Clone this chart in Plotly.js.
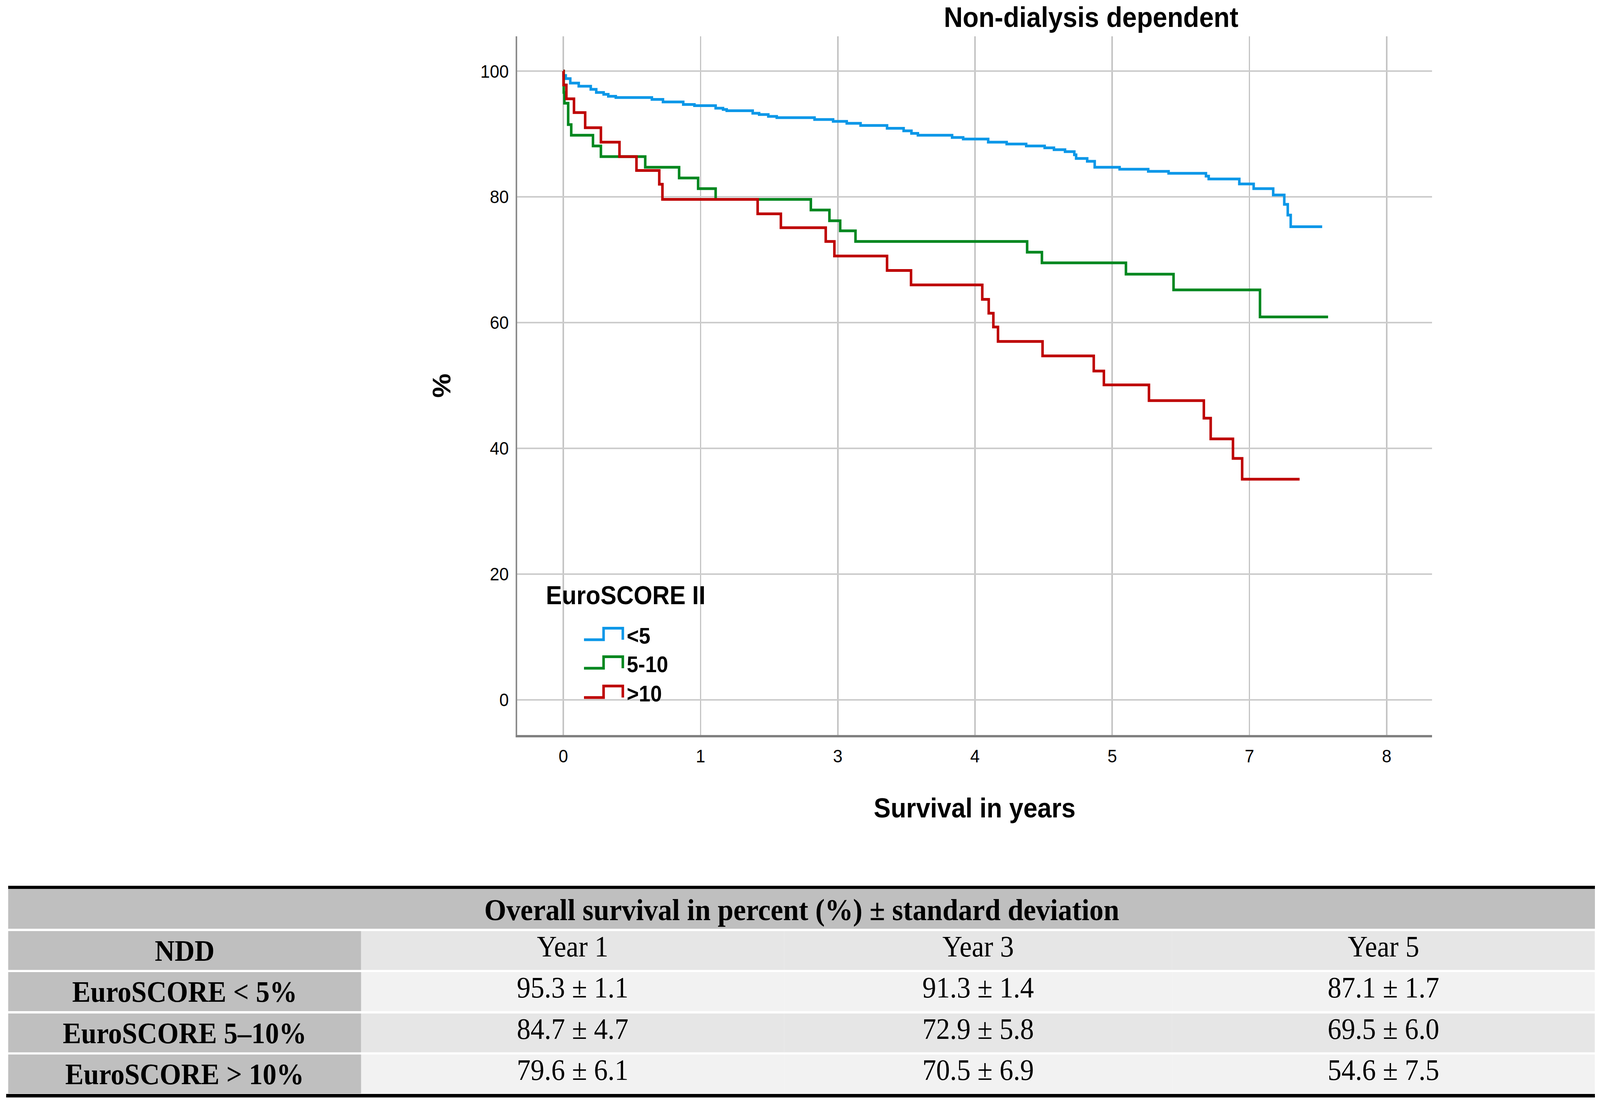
<!DOCTYPE html>
<html>
<head>
<meta charset="utf-8">
<script src="https://cdn.plot.ly/plotly-3.0.1.min.js"></script>
<style>
html,body{margin:0;padding:0;background:#fff;overflow:hidden;}
#chart{width:4411px;height:2837px;transform-origin:0 0;}
</style>
</head>
<body>
<div id="chart"></div>
<script>
// ---------- DATA ----------
const chartTitle = 'Non-dialysis dependent';
const xTitle = 'Survival in years';
const yTitle = '%';
const legendTitle = 'EuroSCORE II';
const seriesNames = ['<5', '5-10', '>10'];

const xTickVals = [0, 1.3, 2.6, 3.9, 5.2, 6.5, 7.8];
const xTickText = ['0', '1', '3', '4', '5', '7', '8'];
const yTickVals = [0, 20, 40, 60, 80, 100];

const blueX = [0, 0.002, 0.023, 0.066, 0.146, 0.260, 0.312, 0.382, 0.426, 0.497, 0.839, 0.944, 1.136, 1.242, 1.443, 1.513, 1.548, 1.794, 1.855, 1.942, 2.022, 2.380, 2.556, 2.685, 2.816, 3.067, 3.224, 3.298, 3.359, 3.683, 3.788, 4.025, 4.200, 4.385, 4.560, 4.648, 4.753, 4.841, 4.858, 4.963, 5.034, 5.270, 5.541, 5.734, 6.088, 6.114, 6.404, 6.540, 6.725, 6.830, 6.863, 6.891, 7.189];
const blueY = [100, 99.3, 98.8, 98.1, 97.6, 97.1, 96.6, 96.3, 96.0, 95.8, 95.5, 95.1, 94.7, 94.5, 94.1, 93.9, 93.7, 93.3, 93.1, 92.8, 92.6, 92.3, 92.0, 91.7, 91.35, 90.9, 90.5, 90.1, 89.8, 89.45, 89.2, 88.7, 88.4, 88.1, 87.8, 87.5, 87.2, 86.7, 86.1, 85.65, 84.7, 84.4, 84.05, 83.75, 83.3, 82.85, 82.05, 81.3, 80.3, 78.8, 77.1, 75.25, 75.25];

const greenX = [0, 0.004, 0.010, 0.046, 0.075, 0.281, 0.356, 0.776, 1.097, 1.277, 1.443, 2.345, 2.521, 2.623, 2.768, 4.394, 4.534, 5.330, 5.781, 6.600, 7.245];
const greenY = [100, 96.6, 94.9, 91.5, 89.8, 88.1, 86.4, 84.7, 83.0, 81.3, 79.6, 77.9, 76.2, 74.6, 72.9, 71.2, 69.5, 67.7, 65.2, 60.9, 60.9];

const redX = [0, 0.002, 0.029, 0.101, 0.207, 0.356, 0.532, 0.693, 0.909, 0.939, 1.841, 2.061, 2.486, 2.568, 3.067, 3.294, 3.969, 4.030, 4.074, 4.118, 4.540, 5.025, 5.121, 5.548, 6.068, 6.133, 6.344, 6.431, 6.975];
const redY = [100, 97.8, 95.6, 93.4, 91.0, 88.7, 86.4, 84.2, 82.0, 79.6, 77.3, 75.1, 72.9, 70.6, 68.3, 66.0, 63.7, 61.5, 59.3, 57.0, 54.7, 52.3, 50.1, 47.6, 44.8, 41.5, 38.4, 35.1, 35.1];

const tableTitle = 'Overall survival in percent (%) ± standard deviation';
const tableHeader = ['NDD', 'Year 1', 'Year 3', 'Year 5'];
const rowLabels = ['EuroSCORE < 5%', 'EuroSCORE 5–10%', 'EuroSCORE > 10%'];
const year1Mean = [95.3, 84.7, 79.6];
const year1SD = [1.1, 4.7, 6.1];
const year3Mean = [91.3, 72.9, 70.5];
const year3SD = [1.4, 5.8, 6.9];
const year5Mean = [87.1, 69.5, 54.6];
const year5SD = [1.7, 6.0, 7.5];

// ---------- STYLE / LAYOUT ----------
const W = 4411, H = 2837;
const fx = px => px / W;
const fy = py => 1 - py / H;
const esc = s => s.replace(/&/g, '&amp;').replace(/</g, '&lt;').replace(/>/g, '&gt;');
const SANS = 'Liberation Sans, Arial, sans-serif';
const SERIF = 'Liberation Serif, Times New Roman, serif';
const colors = ['#0a97e8', '#00871f', '#be0000'];

const xs = [blueX, greenX, redX];
const ys = [blueY, greenY, redY];

const traces = xs.map((x, i) => ({
  type: 'scatter', mode: 'lines', x: x, y: ys[i], name: seriesNames[i],
  line: {shape: 'hv', color: colors[i], width: 7},
  showlegend: false, hoverinfo: 'x+y+name'
}));

// table rows (each row is its own one-row table so rows are separated by white gaps)
const fmt = (m, s) => m.map((v, i) => v.toFixed(1) + ' ± ' + s[i].toFixed(1));
const y1 = fmt(year1Mean, year1SD), y3 = fmt(year3Mean, year3SD), y5 = fmt(year5Mean, year5SD);
const tableRows = [tableHeader.map((h, i) => (i === 0 ? '<b>' + esc(h) + '</b>' : esc(h)))];
rowLabels.forEach((r, i) => tableRows.push(['<b>' + esc(r) + '</b>', y1[i], y3[i], y5[i]]));
const rowTop = 2383.5, rowH = 100.5, rowPitch = 105.5;
tableRows.forEach((vals, r) => {
  const rest = (r % 2 === 0) ? '#e6e6e6' : '#f2f2f2';
  const top = rowTop + r * rowPitch;
  traces.push({
    type: 'table',
    domain: {x: [fx(22.6), fx(4397)], y: [fy(top + rowH + 0.5), fy(top)]},
    columnwidth: [973, 1166, 1070, 1165],
    header: {
      values: vals,
      fill: {color: ['#bfbfbf', rest, rest, rest]},
      line: {width: 0, color: rest},
      height: rowH,
      align: 'center',
      font: {family: SERIF, size: 76, color: '#000'}
    },
    cells: {values: [[], [], [], []], height: 1, line: {width: 0}}
  });
});

// legend (drawn manually with step-shaped icons)
const shapes = [];
const annotations = [];
annotations.push({
  xref: 'paper', yref: 'paper', x: fx(1503), y: fy(1524), xanchor: 'left', yanchor: 'middle',
  text: esc(legendTitle), showarrow: false,
  font: {family: SANS, size: 66, color: '#000', weight: 'bold'}
});
const entryY = [1628, 1701, 1776];
seriesNames.forEach((n, i) => {
  const cy = entryY[i];
  const low = cy + 10, top = cy - 19.5;
  shapes.push({
    type: 'path', xref: 'paper', yref: 'paper',
    path: 'M' + fx(1610) + ',' + fy(low) + ' L' + fx(1664) + ',' + fy(low) + ' L' + fx(1664) + ',' + fy(top) +
          ' L' + fx(1717) + ',' + fy(top) + ' L' + fx(1717) + ',' + fy(low),
    line: {color: colors[i], width: 7}
  });
  annotations.push({
    xref: 'paper', yref: 'paper', x: fx(1726), y: fy(cy), xanchor: 'left', yanchor: 'middle',
    text: esc(n), showarrow: false,
    font: {family: SANS, size: 57, color: '#000', weight: 'bold'}
  });
});

// table decorations
shapes.push({type: 'rect', xref: 'paper', yref: 'paper', x0: fx(22.6), x1: fx(4397), y0: fy(2378), y1: fy(2276),
  fillcolor: '#bfbfbf', line: {width: 0}, layer: 'below'});
shapes.push({type: 'line', xref: 'paper', yref: 'paper', x0: fx(22.6), x1: fx(4397), y0: fy(2272), y1: fy(2272),
  line: {color: '#000', width: 8}});
shapes.push({type: 'line', xref: 'paper', yref: 'paper', x0: fx(17), x1: fx(4397), y0: fy(2805.5), y1: fy(2805.5),
  line: {color: '#000', width: 9}});
annotations.push({
  xref: 'paper', yref: 'paper', x: fx(2210), y: fy(2329), xanchor: 'center', yanchor: 'middle',
  text: '<b>' + esc(tableTitle) + '</b>', showarrow: false,
  font: {family: SERIF, size: 78, color: '#000'}
});

const layout = {
  width: W, height: H,
  margin: {l: 0, r: 0, t: 0, b: 0},
  paper_bgcolor: '#fff', plot_bgcolor: '#fff',
  showlegend: false,
  title: {
    text: chartTitle, x: fx(3008), xref: 'container', xanchor: 'center',
    y: fy(44), yref: 'container', yanchor: 'middle',
    font: {family: SANS, size: 72, color: '#000', weight: 'bold'}
  },
  xaxis: {
    domain: [fx(1426), fx(3948)], range: [-0.4364, 8.230],
    tickmode: 'array', tickvals: xTickVals, ticktext: xTickText,
    showgrid: true, gridcolor: '#c4c4c4', gridwidth: 4, zeroline: false,
    showline: true, linecolor: '#808080', linewidth: 6, ticks: '',
    ticklabelstandoff: 8,
    tickfont: {family: SANS, size: 47, color: '#000'},
    title: {text: xTitle, font: {family: SANS, size: 70, color: '#000', weight: 'bold'}, standoff: 85},
    fixedrange: true
  },
  yaxis: {
    domain: [fy(1882), fy(92.7)], range: [-5.59, 105.55],
    tickmode: 'array', tickvals: yTickVals,
    showgrid: true, gridcolor: '#cccccc', gridwidth: 4, zeroline: false,
    showline: true, linecolor: '#8c8c8c', linewidth: 4, ticks: '',
    ticklabelstandoff: 10,
    tickfont: {family: SANS, size: 47, color: '#000'},
    title: {text: yTitle, font: {family: SANS, size: 70, color: '#000', weight: 'bold'}, standoff: 60},
    fixedrange: true
  },
  shapes: shapes,
  annotations: annotations
};

Plotly.newPlot('chart', traces, layout, {displayModeBar: false, responsive: false, staticPlot: true}).then(() => {
  // the real viewport can be smaller than the 4411x2837 figure: map the figure onto it exactly
  const sx = Math.min(1, window.innerWidth / W);
  const sy = Math.min(1, window.innerHeight / H);
  if (sx < 1 || sy < 1) document.getElementById('chart').style.transform = 'scale(' + sx + ',' + sy + ')';
});
</script>
</body>
</html>
